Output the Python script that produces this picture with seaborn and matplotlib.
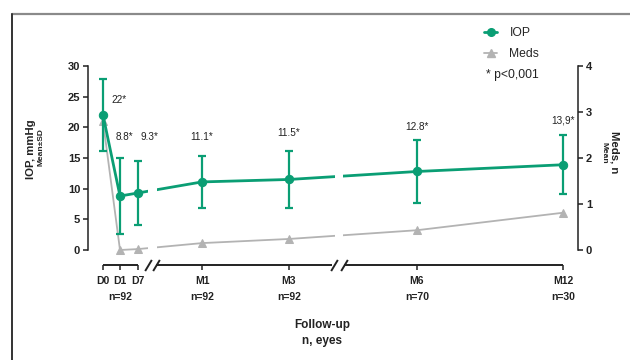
import numpy as np
import seaborn as sns
import matplotlib.pyplot as plt
from matplotlib.lines import Line2D

# ---- data ----
visits = ["D0", "D1", "D7", "M1", "M3", "M6", "M12"]
visit_days = [0, 1, 7, 30, 91, 182, 365]
n_eyes = ["", "n=92", "", "n=92", "n=92", "n=70", "n=30"]
iop_mean = [22.0, 8.8, 9.3, 11.1, 11.5, 12.8, 13.9]
iop_sd = [5.8, 6.2, 5.2, 4.3, 4.6, 5.2, 4.8]
iop_labels = ["22*", "8.8*", "9.3*", "11.1*", "11.5*", "12.8*", "13,9*"]
meds_mean = [2.8, 0.0, 0.02, 0.15, 0.24, 0.43, 0.81]

green = "#0a9e74"
gray = "#b3b3b3"
dark = "#222222"

sns.set_style("white")
plt.rcParams["font.family"] = ["Liberation Sans", "DejaVu Sans"]

# broken / ordinal time axis: days -> drawing position
knot_days = [-100, 0, 1, 7, 30, 91, 182, 365, 1000]
knot_pos = [-1500, 0, 17, 35, 99, 186, 314, 460, 968]


def fwd(x):
    return np.interp(x, knot_days, knot_pos)


def inv(p):
    return np.interp(p, knot_pos, knot_days)


fig = plt.figure(figsize=(6.3, 3.6), dpi=100)
ax1 = fig.add_axes([88 / 630, 1 - 250 / 360, 490 / 630, 184 / 360])
ax2 = ax1.twinx()
ax1.set_zorder(ax2.get_zorder() + 1)
ax1.patch.set_visible(False)
ax1.set_xscale("function", functions=(fwd, inv))

# meds on right axis
sns.lineplot(x=visit_days, y=meds_mean, ax=ax2, color=gray, marker="^",
             markersize=5.5, markeredgecolor=gray, linewidth=1.3, clip_on=False)

# IOP on left axis
sns.lineplot(x=visit_days, y=iop_mean, ax=ax1, color=green, marker="o",
             markersize=6, markeredgecolor=green, linewidth=2.0,
             clip_on=False, zorder=4)
ax1.errorbar(visit_days, iop_mean, yerr=iop_sd, fmt="none", ecolor=green,
             elinewidth=1.6, capsize=3, capthick=1.6, zorder=4)

# value labels
label_offsets = [(11.5, 11), (3, 15), (8, 17), (0, 13), (0, 13), (0, 9), (0, 11)]
for i, txt in enumerate(iop_labels):
    y = iop_mean[i] if i == 0 else iop_mean[i] + iop_sd[i]
    ax1.annotate(txt, (visit_days[i], y), xytext=label_offsets[i],
                 textcoords="offset points", ha="center", va="center",
                 fontsize=7.2, color="#222222", zorder=8)

# gaps in the lines at the axis breaks
for a, b in [(45, 54), (232, 240)]:
    ax1.axvspan(inv(a), inv(b), ymin=-0.05, ymax=0.5, color="white",
                zorder=6, lw=0)

ax1.set_xlim(inv(-15), inv(475))
ax1.set_ylim(0, 30)
ax2.set_ylim(0, 4)
ax1.set_yticks(range(0, 31, 5))
ax2.set_yticks(range(0, 5))
ax1.set_xlabel("")
ax1.set_ylabel("")
ax2.set_ylabel("")

xtick_labels = [f"{v}\n{n}" if n else v for v, n in zip(visits, n_eyes)]
ax1.set_xticks(visit_days, labels=xtick_labels)
ax1.xaxis.set_minor_locator(plt.NullLocator())

for s in ["top", "right"]:
    ax1.spines[s].set_visible(False)
for s in ["top", "left", "bottom"]:
    ax2.spines[s].set_visible(False)
ax1.spines["left"].set_linewidth(1.1)
ax1.spines["left"].set_color(dark)
ax2.spines["right"].set_linewidth(1.1)
ax2.spines["right"].set_color(dark)
ax1.spines["bottom"].set_visible(False)
ax1.spines["bottom"].set_position(("outward", 10.8))

ax1.tick_params(axis="y", direction="out", length=3.6, width=1.1,
                color=dark, labelsize=8, pad=2, left=True)
ax1.tick_params(axis="x", direction="out", length=3.6, width=1.1,
                color=dark, labelsize=7.5, pad=4.5, bottom=True)
ax2.tick_params(axis="y", direction="out", length=3.6, width=1.1,
                color=dark, labelsize=8, pad=2, right=True)
plt.setp(ax1.get_xticklabels() + ax1.get_yticklabels() + ax2.get_yticklabels(),
         fontweight="bold", color=dark)
plt.setp(ax1.get_xticklabels(), linespacing=1.75)

# hand-drawn broken x axis
xtr = ax1.get_xaxis_transform(which="tick1")
for a, b in [(0, 35), (53, 229), (241, 460)]:
    ax1.plot([inv(a), inv(b)], [0, 0], transform=xtr, color=dark, lw=1.4,
             clip_on=False, solid_capstyle="butt")
slash_pos = [45, 53, 231, 241]
ax1.plot(inv(np.array(slash_pos)), [0] * len(slash_pos), transform=xtr,
         linestyle="none", marker=[(-0.6, -1), (0.6, 1)], markersize=8,
         markeredgewidth=1.4, color=dark, clip_on=False)

# axis titles
fig.text(31 / 630, 1 - 149 / 360, "IOP, mmHg", rotation=90, ha="center",
         va="center", fontsize=8.2, fontweight="bold", color=dark)
fig.text(41 / 630, 1 - 147 / 360, "Mean±SD", rotation=90, ha="center",
         va="center", fontsize=6, fontweight="bold", color=dark)
fig.text(614 / 630, 1 - 152 / 360, "Meds, n", rotation=270, ha="center",
         va="center", fontsize=8.2, fontweight="bold", color=dark)
fig.text(604 / 630, 1 - 153 / 360, "Mean", rotation=270, ha="center",
         va="center", fontsize=6, fontweight="bold", color=dark)
fig.text(322 / 630, 1 - 325 / 360, "Follow-up", ha="center", va="center",
         fontsize=8.5, fontweight="bold", color=dark)
fig.text(322 / 630, 1 - 341 / 360, "n, eyes", ha="center", va="center",
         fontsize=8.5, fontweight="bold", color=dark)

# legend
handles = [
    Line2D([], [], color=green, marker="o", lw=2, markersize=5.5, label="IOP"),
    Line2D([], [], color=gray, marker="^", lw=1.3, markersize=5.5, label="Meds"),
]
fig.legend(handles=handles, loc="upper left",
           bbox_to_anchor=(484 / 630, 1 - 27 / 360), frameon=False,
           fontsize=8.7, handlelength=1.1, handletextpad=1.0,
           labelspacing=0.75, borderaxespad=0, borderpad=0)
fig.text(486 / 630, 1 - 75 / 360, "* p<0,001", ha="left", va="center",
         fontsize=8.7, color=dark)

# figure frame lines
fig.add_artist(Line2D([12 / 630, 1], [1 - 14 / 360] * 2, color="#8a8a8a", lw=1.6))
fig.add_artist(Line2D([12 / 630] * 2, [0, 1 - 14 / 360], color="#333333", lw=1.4))

fig.savefig("out.png", dpi=100)
